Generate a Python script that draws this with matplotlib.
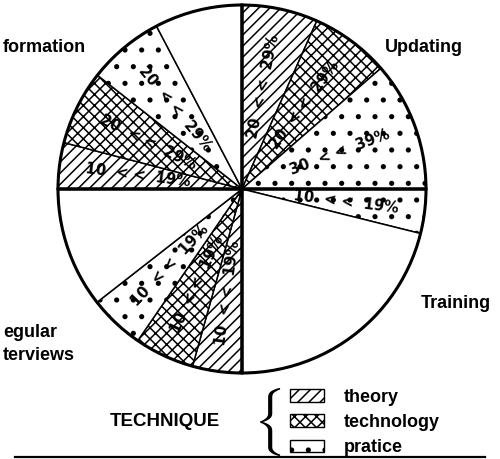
import matplotlib
matplotlib.use("Agg")
import matplotlib.pyplot as plt
from matplotlib.patches import Patch
import numpy as np

W, H = 500, 459

# ---------------------------------------------------------------------------
# Data: four reasons, each one quarter of the pie, split by technique
# ---------------------------------------------------------------------------
category_names = ["Updating", "Training", "Regular interviews", "Information"]
category_size = [90, 90, 90, 90]
# captions as they survive on the (cropped) scan
caption_text = ["Updating", "Training", "egular\nterviews", "formation"]

techniques = ["theory", "technology", "pratice"]

# slices, clockwise from 12 o'clock (sizes in degrees)
slice_size = [24.0, 25.0, 41.0,
              14.0, 76.0,
              15.6, 18.9, 17.5, 38.0,
              14.6, 23.6, 24.1, 27.7]
slice_kind = ["theory", "technology", "pratice",
              "pratice", None,
              "theory", "technology", "pratice", None,
              "theory", "technology", "pratice", None]
slice_label = ["20  < <  29%", "20  < <  29%", "30  < <  39%",
               "10  < <  19%", "",
               "10  < <  19%", "10  < <  19%", "10  < <  19%", "",
               "10  < <  19%", "20  < <  29%", "20  < <  29%", ""]

HATCH = {"theory": "///", "technology": "xxx", "pratice": "."}

plt.rcParams["hatch.linewidth"] = 1.1
BOLD = {"family": "Liberation Sans", "weight": "bold"}


def fat_dots(patch, kind):
    # slightly bigger dots for the "pratice" pattern, like the printed screen
    if kind == "pratice" and hasattr(patch, "set_hatch_linewidth"):
        patch.set_hatch_linewidth(1.3)


fig = plt.figure(figsize=(W / 100, H / 100), dpi=100)
ax = fig.add_axes([0, 0, 1, 1])

cx, cy, R = 242, H - 189, 184

wedges, _ = ax.pie(slice_size, startangle=90, counterclock=False,
                   center=(cx, cy), radius=R, frame=True,
                   wedgeprops=dict(edgecolor="black", linewidth=1.1))
for w, k in zip(wedges, slice_kind):
    w.set_facecolor("white")
    if k:
        w.set_hatch(HATCH[k])
        fat_dots(w, k)

# thicker outline for the four quarters
ax.pie(category_size, startangle=90, counterclock=False,
       center=(cx, cy), radius=R, frame=True,
       wedgeprops=dict(fill=False, edgecolor="black", linewidth=2.2))

# radial labels inside the slices
for w, lab in zip(wedges, slice_label):
    if not lab:
        continue
    mid = (w.theta1 + w.theta2) / 2.0
    mid = (mid + 180) % 360 - 180
    a = np.deg2rad(mid)
    rot = mid if np.cos(a) >= 0 else mid - 180
    ax.text(cx + 0.57 * R * np.cos(a), cy + 0.57 * R * np.sin(a), lab,
            rotation=rot, rotation_mode="anchor", ha="center", va="center",
            fontsize=10.5, fontweight="bold", color="black")

# category captions
cap_pos = [(385, 47), (421, 303), (3, 344), (3, 47)]
for txt, (x, y) in zip(caption_text, cap_pos):
    ax.text(x, H - y, txt, ha="left", va="center", fontsize=13,
            linespacing=1.5, **BOLD)

# legend block
ax.text(165, H - 421, "TECHNIQUE", ha="center", va="center", fontsize=13.5, **BOLD)
ax.text(267, H - 422, r"$\{$", ha="center", va="center", fontsize=40,
        math_fontfamily="cm")

handles = [Patch(facecolor="white", edgecolor="black", hatch=HATCH[t], label=t)
           for t in techniques]
leg = fig.legend(handles=handles, loc="upper left",
                 bbox_to_anchor=(290 / W, 1 - 389 / H), frameon=False,
                 prop={"family": "Liberation Sans", "weight": "bold", "size": 13},
                 handlelength=1.9, handleheight=0.7, handletextpad=1.1,
                 labelspacing=0.45, borderpad=0, borderaxespad=0)
for p, t in zip(leg.get_patches(), techniques):
    fat_dots(p, t)

ax.axhline(H - 457, xmin=0.03, xmax=0.97, color="black", lw=1.6)

ax.set_xlim(0, W)
ax.set_ylim(0, H)
ax.axis("off")

fig.savefig("out.png", dpi=100)
